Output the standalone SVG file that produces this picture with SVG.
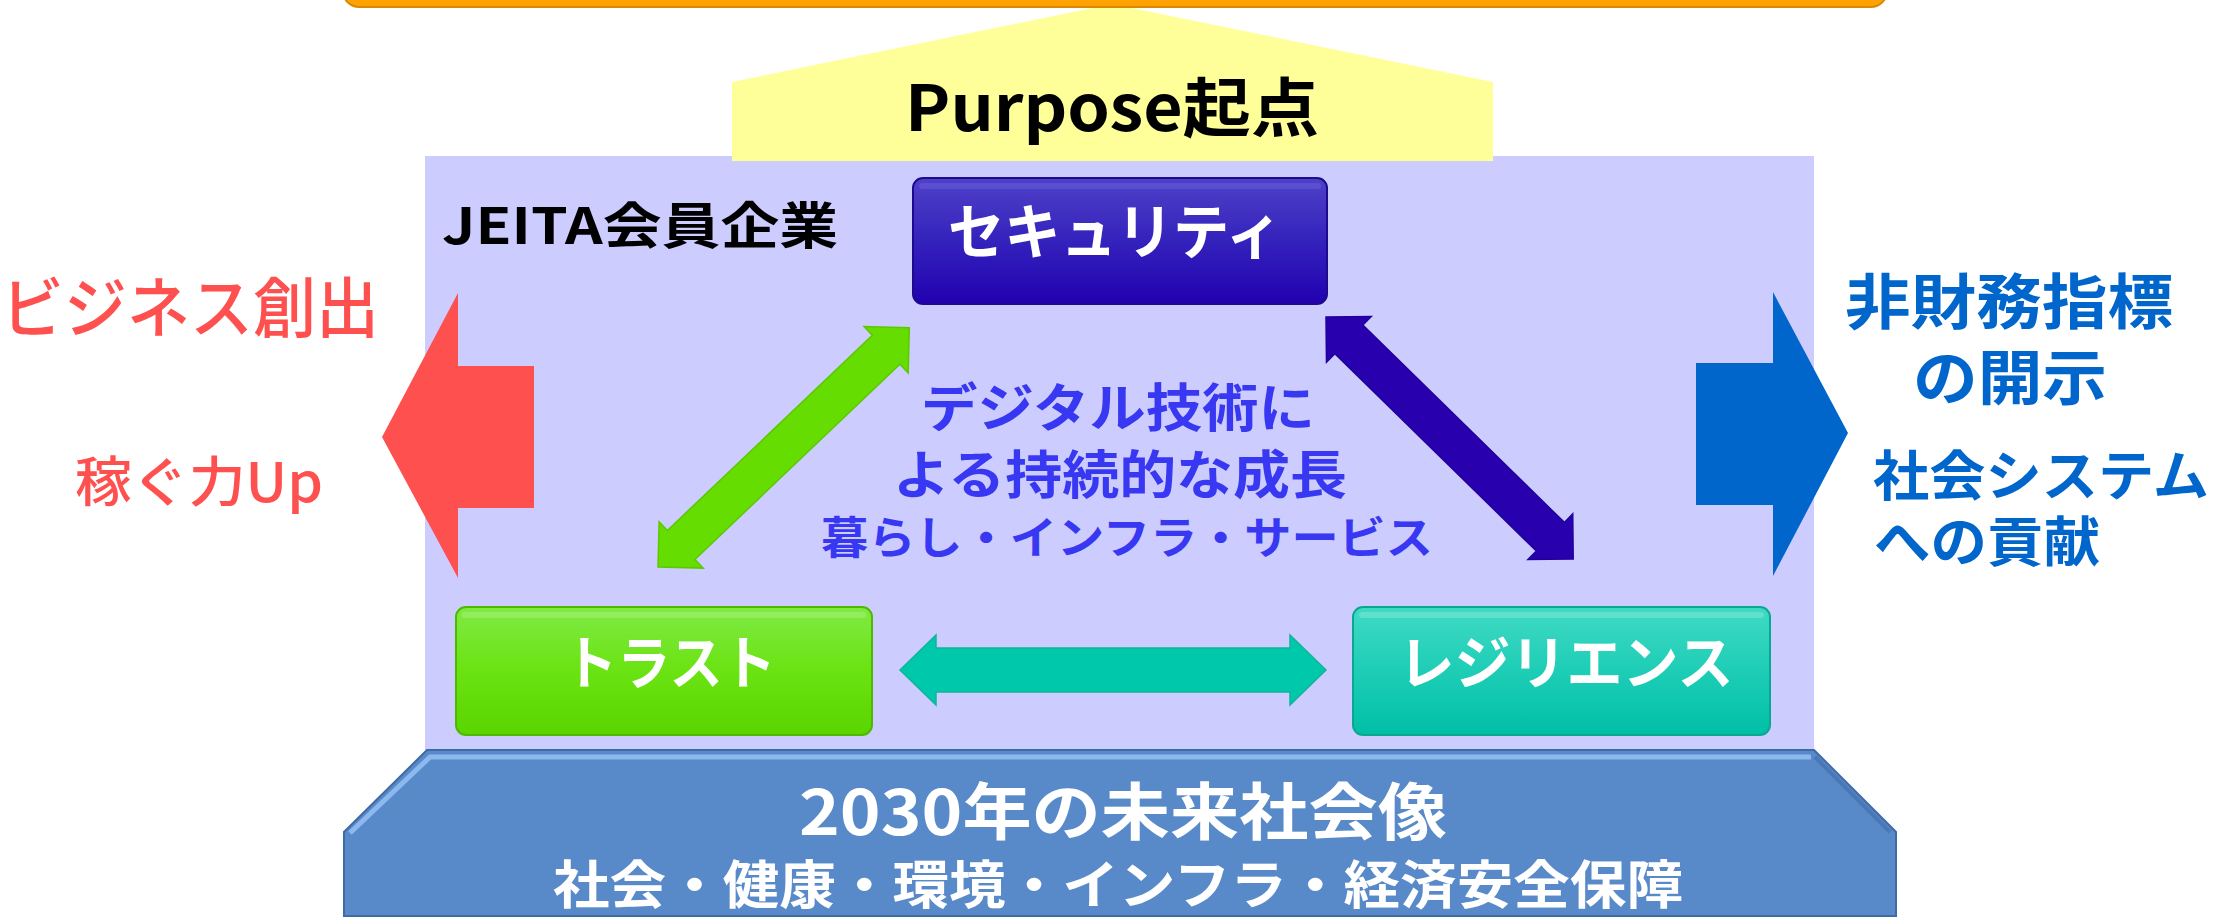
<svg xmlns="http://www.w3.org/2000/svg" width="2219" height="917" viewBox="0 0 2219 917">
  <defs>
    <linearGradient id="gSec" x1="0" y1="0" x2="0" y2="1">
      <stop offset="0" stop-color="#4E42C8"/>
      <stop offset="0.5" stop-color="#3422BC"/>
      <stop offset="1" stop-color="#2200B0"/>
    </linearGradient>
    <linearGradient id="gTrust" x1="0" y1="0" x2="0" y2="1">
      <stop offset="0" stop-color="#80EA44"/>
      <stop offset="0.5" stop-color="#6AE312"/>
      <stop offset="1" stop-color="#5AD500"/>
    </linearGradient>
    <linearGradient id="gRes" x1="0" y1="0" x2="0" y2="1">
      <stop offset="0" stop-color="#40DAC4"/>
      <stop offset="0.5" stop-color="#1ECDB6"/>
      <stop offset="1" stop-color="#00BFA6"/>
    </linearGradient>
    <linearGradient id="gOrange" x1="0" y1="0" x2="0" y2="1">
      <stop offset="0" stop-color="#FFB020"/>
      <stop offset="1" stop-color="#FFA000"/>
    </linearGradient>
    <style>
      .t { font-family: "Noto Sans CJK JP", "Noto Sans", sans-serif; font-weight: 700; }
      .m { font-family: "Noto Sans CJK JP", "Noto Sans", sans-serif; font-weight: 500; }
      .w { fill: #FFFFFF; }
      .node { stroke-width: 2; }
      .arr { stroke-width: 1.5; }
    </style>
  </defs>

  <rect width="2219" height="917" fill="#FFFFFF"/>

  <g id="jeita-area">
    <rect x="425" y="156" width="1389" height="594" fill="#CCCCFF"/>
    <text class="t" x="442" y="244" font-size="50" fill="#000000" textLength="396" lengthAdjust="spacingAndGlyphs">JEITA会員企業</text>
  </g>

  <g id="purpose">
    <polygon points="1112,4 1493,82 1493,161 732,161 732,82" fill="#FFFF99"/>
    <text class="t" x="1112" y="131" font-size="64" fill="#000000" text-anchor="middle" textLength="414" lengthAdjust="spacingAndGlyphs">Purpose起点</text>
  </g>

  <g id="top-box">
    <rect x="343" y="-40" width="1544" height="47" rx="16" fill="url(#gOrange)" stroke="#D98A00" stroke-width="2"/>
  </g>

  <g id="business">
    <polygon points="382,437 458,293 458,366 534,366 534,508 458,508 458,578" fill="#FF5050"/>
    <text class="m" x="190" y="332" font-size="66" fill="#FF5050" text-anchor="middle" textLength="378" lengthAdjust="spacingAndGlyphs">ビジネス創出</text>
    <text class="m" x="199" y="502" font-size="54" fill="#FF5050" text-anchor="middle" textLength="248" lengthAdjust="spacingAndGlyphs">稼ぐ力Up</text>
  </g>

  <g id="disclosure">
    <polygon points="1696,363 1773,363 1773,292 1848,433 1773,576 1773,505 1696,505" fill="#0066CC"/>
    <text class="t" x="2009" y="324" font-size="60" fill="#0066CC" text-anchor="middle" textLength="328" lengthAdjust="spacingAndGlyphs">非財務指標</text>
    <text class="t" x="2010" y="400" font-size="60" fill="#0066CC" text-anchor="middle" textLength="194" lengthAdjust="spacingAndGlyphs">の開示</text>
    <text class="t" x="1873" y="496" font-size="54" fill="#0066CC" textLength="336" lengthAdjust="spacingAndGlyphs">社会システム</text>
    <text class="t" x="1874" y="562" font-size="54" fill="#0066CC" textLength="226" lengthAdjust="spacingAndGlyphs">への貢献</text>
  </g>

  <g id="connectors">
    <path class="arr" transform="translate(658,567) rotate(-43.6)" d="M0,0 L32,-32 L32,-20 L315,-20 L315,-32 L347,0 L315,32 L315,20 L32,20 L32,32 Z" fill="#66DD00" stroke="#5CC800"/>
    <path class="arr" transform="translate(1326,317) rotate(44.4)" d="M0,0 L32,-32 L32,-20 L314,-20 L314,-32 L346,0 L314,32 L314,20 L32,20 L32,32 Z" fill="#2800AE" stroke="#22009A"/>
    <path class="arr" transform="translate(900,670)" d="M0,0 L36,-35 L36,-22 L390,-22 L390,-35 L426,0 L390,35 L390,22 L36,22 L36,35 Z" fill="#00C8AA" stroke="#10B49A"/>
  </g>

  <g id="center-text">
    <text class="t" x="1118" y="427" font-size="52" fill="#3838F2" text-anchor="middle" textLength="394" lengthAdjust="spacingAndGlyphs">デジタル技術に</text>
    <text class="t" x="1120" y="494" font-size="52" fill="#3838F2" text-anchor="middle" textLength="454" lengthAdjust="spacingAndGlyphs">よる持続的な成長</text>
    <text class="t" x="1127" y="554" font-size="44" fill="#3838F2" text-anchor="middle" textLength="612" lengthAdjust="spacingAndGlyphs">暮らし・インフラ・サービス</text>
  </g>

  <g id="node-security">
    <rect class="node" x="913" y="178" width="414" height="126" rx="10" fill="url(#gSec)" stroke="#1E0A90"/>
    <rect x="919" y="183" width="402" height="6" rx="3" fill="#6A60D8" opacity="0.5"/>
    <text class="t w" x="1115" y="254" font-size="60" text-anchor="middle" textLength="334" lengthAdjust="spacingAndGlyphs">セキュリティ</text>
  </g>

  <g id="node-trust">
    <rect class="node" x="456" y="607" width="416" height="128" rx="10" fill="url(#gTrust)" stroke="#4FB800"/>
    <rect x="462" y="612" width="404" height="6" rx="3" fill="#A8F27A" opacity="0.5"/>
    <text class="t w" x="670" y="684" font-size="58" text-anchor="middle" textLength="212" lengthAdjust="spacingAndGlyphs">トラスト</text>
  </g>

  <g id="node-resilience">
    <rect class="node" x="1353" y="607" width="417" height="128" rx="10" fill="url(#gRes)" stroke="#0AA890"/>
    <rect x="1359" y="612" width="405" height="6" rx="3" fill="#80EAD8" opacity="0.5"/>
    <text class="t w" x="1566" y="684" font-size="58" text-anchor="middle" textLength="335" lengthAdjust="spacingAndGlyphs">レジリエンス</text>
  </g>

  <g id="node-vision">
    <polygon points="427,750 1814,750 1896,832 1896,916 344,916 344,832" fill="#5889C8" stroke="#3E6AA6" stroke-width="2"/>
    <polyline points="350,833 430,757 1811,757" fill="none" stroke="#8DB8EE" stroke-width="5"/>
    <polyline points="1815,757 1890,832" fill="none" stroke="#4A78B4" stroke-width="4"/>
    <text class="t w" x="1123" y="835" font-size="62" text-anchor="middle" textLength="648" lengthAdjust="spacingAndGlyphs">2030年の未来社会像</text>
    <text class="t w" x="1118" y="904" font-size="52" text-anchor="middle" textLength="1130" lengthAdjust="spacingAndGlyphs">社会・健康・環境・インフラ・経済安全保障</text>
  </g>
</svg>
